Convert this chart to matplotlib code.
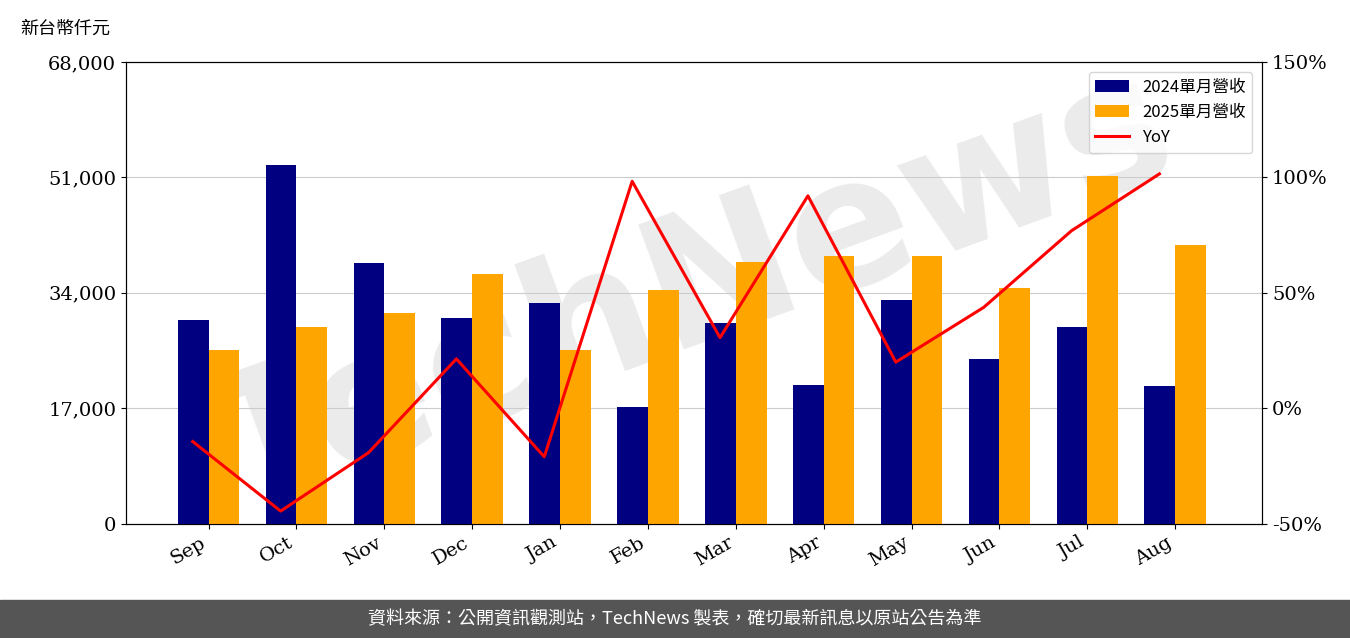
import matplotlib.pyplot as plt
import numpy as np

months = ["Sep", "Oct", "Nov", "Dec", "Jan", "Feb", "Mar", "Apr", "May", "Jun", "Jul", "Aug"]
rev_2024 = [30000, 52800, 38400, 30300, 32500, 17200, 29600, 20500, 33000, 24300, 29000, 20300]
rev_2025 = [25600, 29000, 31100, 36800, 25600, 34400, 38600, 39400, 39400, 34700, 51200, 41100]
yoy = [-14.4, -44.5, -19.2, 21.4, -21.0, 98.3, 30.6, 92.0, 20.0, 43.7, 76.9, 101.5]

cjk = ['Noto Sans CJK TC', 'DejaVu Sans']
plt.rcParams['font.family'] = ['DejaVu Serif']

fig = plt.figure(figsize=(13.5, 6.38), dpi=100)
ax = fig.add_axes([0.0933, 0.179, 0.8417, 0.724])
x = np.arange(len(months))
w = 0.35
ax.text(0.5, 0.5, "TechNews", transform=ax.transAxes, fontsize=130, color="#e6e6e6",
        alpha=0.8, rotation=20, ha="center", va="center", family="DejaVu Sans",
        fontweight="bold", zorder=0)
b1 = ax.bar(x - w / 2, rev_2024, w, color="#000080", label="2024單月營收", zorder=3)
b2 = ax.bar(x + w / 2, rev_2025, w, color="#FFA500", label="2025單月營收", zorder=3)
ax.set_ylim(0, 68000)
ax.set_yticks(np.arange(0, 68001, 17000))
ax.set_yticklabels([f"{v:,}" for v in range(0, 68001, 17000)], fontsize=14)
ax.grid(axis="y", color="#cccccc", zorder=1)
ax.set_axisbelow(True)
ax.set_xlim(-0.94, 11.99)
ax.set_xticks(x)
ax.set_xticklabels(months, rotation=30, ha="right", fontsize=14)

ax2 = ax.twinx()
l, = ax2.plot(x - 0.18, yoy, color="red", lw=2.2, label="YoY")
ax2.set_ylim(-50, 150)
ax2.set_yticks(range(-50, 151, 50))
ax2.set_yticklabels([f"{v}%" for v in range(-50, 151, 50)], fontsize=14)

ax2.legend([b1, b2, l], ["2024單月營收", "2025單月營收", "YoY"], loc="upper right",
           prop={'family': cjk, 'size': 12}, borderaxespad=0.6)

fig.text(0.015, 0.955, "新台幣仟元", fontsize=13, family=cjk, va="center")
fig.patches.append(plt.Rectangle((0, 0), 1, 0.06, transform=fig.transFigure, color="#555555"))
fig.text(0.5, 0.03, "資料來源：公開資訊觀測站，TechNews 製表，確切最新訊息以原站公告為準",
         fontsize=13, color="white", family=cjk, ha="center", va="center")
fig.savefig("out.png")
